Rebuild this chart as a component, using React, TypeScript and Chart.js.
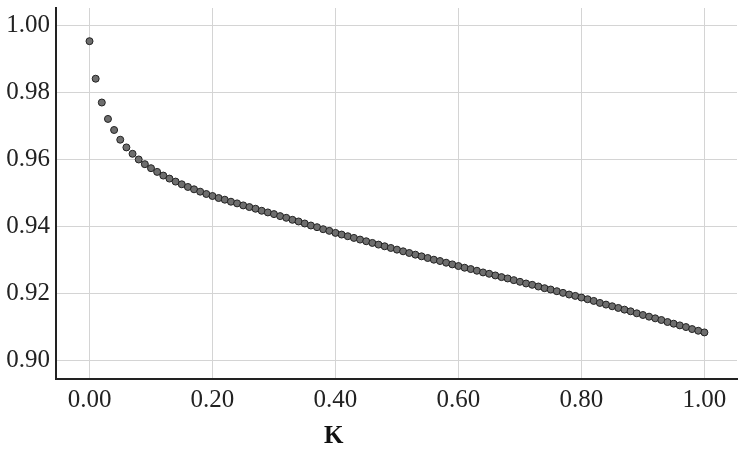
import React, { useEffect, useRef } from "react";
import { Chart, registerables } from "chart.js";

Chart.register(...registerables);

const kValues: number[] = [
  0.0, 0.01, 0.02, 0.03, 0.04, 0.05, 0.06, 0.07, 0.08, 0.09,
  0.1, 0.11, 0.12, 0.13, 0.14, 0.15, 0.16, 0.17, 0.18, 0.19,
  0.2, 0.21, 0.22, 0.23, 0.24, 0.25, 0.26, 0.27, 0.28, 0.29,
  0.3, 0.31, 0.32, 0.33, 0.34, 0.35, 0.36, 0.37, 0.38, 0.39,
  0.4, 0.41, 0.42, 0.43, 0.44, 0.45, 0.46, 0.47, 0.48, 0.49,
  0.5, 0.51, 0.52, 0.53, 0.54, 0.55, 0.56, 0.57, 0.58, 0.59,
  0.6, 0.61, 0.62, 0.63, 0.64, 0.65, 0.66, 0.67, 0.68, 0.69,
  0.7, 0.71, 0.72, 0.73, 0.74, 0.75, 0.76, 0.77, 0.78, 0.79,
  0.8, 0.81, 0.82, 0.83, 0.84, 0.85, 0.86, 0.87, 0.88, 0.89,
  0.9, 0.91, 0.92, 0.93, 0.94, 0.95, 0.96, 0.97, 0.98, 0.99,
  1.0,
];

const seriesValues: number[] = [
  0.9954, 0.9842, 0.9771, 0.9722, 0.9689, 0.966, 0.9637, 0.9618, 0.9601, 0.9587,
  0.9575, 0.9564, 0.9553, 0.9544, 0.9535, 0.9527, 0.9519, 0.9512, 0.9505, 0.9498,
  0.9492, 0.9486, 0.9481, 0.9475, 0.947, 0.9464, 0.9459, 0.9454, 0.9448, 0.9443,
  0.9438, 0.9432, 0.9427, 0.9421, 0.9416, 0.941, 0.9404, 0.9399, 0.9393, 0.9388,
  0.9382, 0.9377, 0.9372, 0.9367, 0.9362, 0.9357, 0.9352, 0.9347, 0.9342, 0.9337,
  0.9332, 0.9327, 0.9322, 0.9317, 0.9312, 0.9307, 0.9302, 0.9298, 0.9293, 0.9288,
  0.9283, 0.9278, 0.9274, 0.9269, 0.9264, 0.926, 0.9255, 0.925, 0.9246, 0.9241,
  0.9236, 0.9231, 0.9227, 0.9222, 0.9217, 0.9213, 0.9208, 0.9203, 0.9198, 0.9194,
  0.9189, 0.9184, 0.9179, 0.9173, 0.9168, 0.9163, 0.9158, 0.9153, 0.9148, 0.9142,
  0.9137, 0.9132, 0.9127, 0.9122, 0.9116, 0.9111, 0.9106, 0.9101, 0.9095, 0.909,
  0.9085,
];

const xTicks: number[] = [0.0, 0.2, 0.4, 0.6, 0.8, 1.0];
const yTicks: number[] = [0.9, 0.92, 0.94, 0.96, 0.98, 1.0];
const xTitle = "K";

const FONT = "'Liberation Serif', 'Times New Roman', serif";

export default function App() {
  const ref = useRef<HTMLCanvasElement | null>(null);

  useEffect(() => {
    if (!ref.current) return;
    const titlePlugin = {
      id: "xTitle",
      afterDraw(chart: any) {
        const ctx = chart.ctx;
        const xs = chart.scales.x;
        ctx.save();
        ctx.font = `bold 25px ${FONT}`;
        ctx.fillStyle = "#111";
        ctx.textAlign = "center";
        ctx.textBaseline = "alphabetic";
        ctx.fillText(xTitle, xs.getPixelForValue(0.397), 443);
        ctx.restore();
      },
    };
    const chart = new Chart(ref.current, {
      type: "scatter",
      data: {
        datasets: [
          {
            data: kValues.map((k, i) => ({ x: k, y: seriesValues[i] })),
            backgroundColor: "#6e6e6e",
            borderColor: "#222222",
            borderWidth: 1,
            pointRadius: 3.5,
            pointHoverRadius: 3.5,
          },
        ],
      },
      options: {
        animation: false,
        responsive: false,
        maintainAspectRatio: false,
        layout: { padding: { left: 0, right: 7, top: 8, bottom: 0 } },
        plugins: {
          legend: { display: false },
          tooltip: { enabled: false },
        },
        scales: {
          x: {
            type: "linear",
            min: -0.0545,
            max: 1.053,
            afterBuildTicks: (s: any) => {
              s.ticks = xTicks.map((v) => ({ value: v }));
            },
            afterFit: (s: any) => {
              s.height = 71;
              s.paddingLeft = 0;
              s.paddingRight = 0;
            },
            grid: { color: "#d4d4d4", lineWidth: 1, drawTicks: false },
            border: { color: "#222", width: 2 },
            ticks: {
              padding: 6,
              color: "#222",
              font: { family: FONT, size: 25 },
              callback: (v: any) => Number(v).toFixed(2),
              maxRotation: 0,
            },
          },
          y: {
            type: "linear",
            min: 0.8946,
            max: 1.0053,
            afterBuildTicks: (s: any) => {
              s.ticks = yTicks.map((v) => ({ value: v }));
            },
            afterFit: (s: any) => {
              s.width = 56;
              s.paddingTop = 0;
              s.paddingBottom = 0;
            },
            grid: { color: "#d4d4d4", lineWidth: 1, drawTicks: false },
            border: { color: "#222", width: 2 },
            ticks: {
              padding: 6,
              color: "#222",
              font: { family: FONT, size: 25 },
              callback: (v: any) => Number(v).toFixed(2),
            },
          },
        },
      },
      plugins: [titlePlugin],
    });
    return () => chart.destroy();
  }, []);

  return (
    <div style={{ position: "fixed", left: 0, top: 0, width: 744, height: 450, background: "#fff" }}>
      <canvas ref={ref} width={744} height={450} style={{ width: 744, height: 450 }} />
    </div>
  );
}
